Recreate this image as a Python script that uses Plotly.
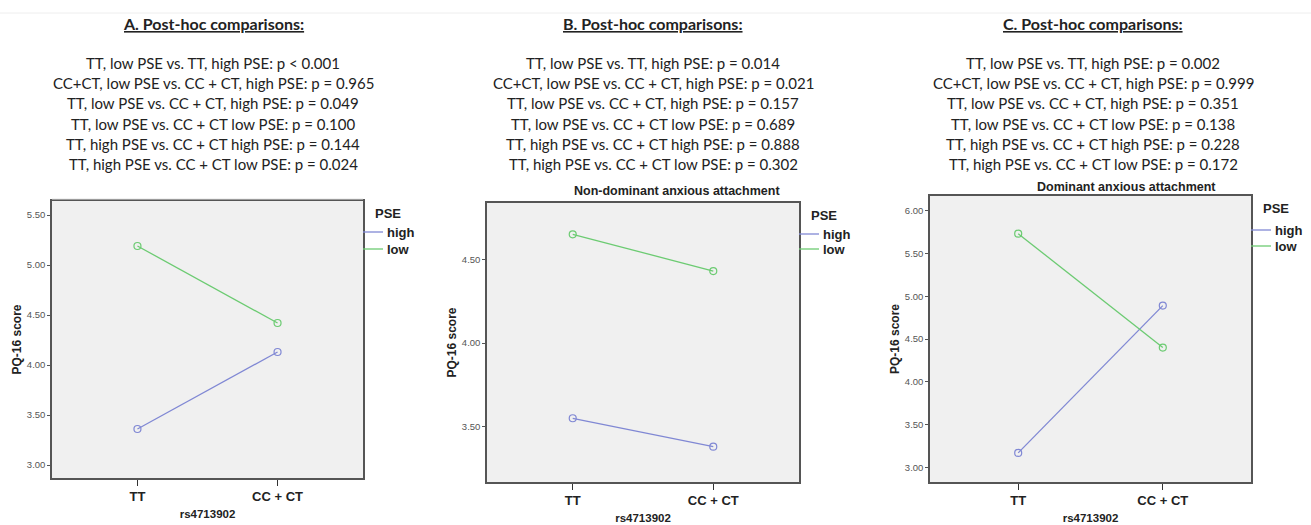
import plotly.graph_objects as go

W, H = 1311, 525

genotypes = ["TT", "CC + CT"]
pse_levels = ["high", "low"]

# Panel A
a_high = [3.36, 4.13]
a_low = [5.19, 4.42]
# Panel B (non-dominant anxious attachment)
b_high = [3.55, 3.38]
b_low = [4.65, 4.43]
# Panel C (dominant anxious attachment)
c_high = [3.17, 4.89]
c_low = [5.73, 4.40]

titles = ["A. Post-hoc comparisons:", "B. Post-hoc comparisons:", "C. Post-hoc comparisons:"]
subtitles = ["", "Non-dominant anxious attachment", "Dominant anxious attachment"]

comparisons = [
    "TT, low PSE vs. TT, high PSE",
    "CC+CT, low PSE vs. CC + CT, high PSE",
    "TT, low PSE vs. CC + CT, high PSE",
    "TT, low PSE vs. CC + CT low PSE",
    "TT, high PSE vs. CC + CT high PSE",
    "TT, high PSE vs. CC + CT low PSE",
]
a_p = ["p < 0.001", "p = 0.965", "p = 0.049", "p = 0.100", "p = 0.144", "p = 0.024"]
b_p = ["p = 0.014", "p = 0.021", "p = 0.157", "p = 0.689", "p = 0.888", "p = 0.302"]
c_p = ["p = 0.002", "p = 0.999", "p = 0.351", "p = 0.138", "p = 0.228", "p = 0.172"]

y_ranges = [[2.87, 5.64], [3.169, 4.837], [2.83, 6.17]]
y_ticks = [[3.0, 3.5, 4.0, 4.5, 5.0, 5.5], [3.5, 4.0, 4.5], [3.0, 3.5, 4.0, 4.5, 5.0, 5.5, 6.0]]

COL_HIGH = "#8088d4"
COL_LOW = "#6ccb72"
ARIAL = "Liberation Sans, Arial, sans-serif"
CAL = "Lato, Open Sans, sans-serif"

# pixel geometry of plot areas: (left, right, top, bottom)
boxes = [(52, 363, 201, 478), (487, 799, 203, 482), (930, 1251, 196, 482)]
# legend offsets from plot top: (PSE title, high, low)
leg_dy = [(12, 31, 48), (12, 31, 46), (13, 34, 50)]

def px(x):
    return x / W

def py(y):
    return 1 - y / H

fig = go.Figure()
highs = [a_high, b_high, c_high]
lows = [a_low, b_low, c_low]

for i in range(3):
    xa = "x" if i == 0 else f"x{i+1}"
    ya = "y" if i == 0 else f"y{i+1}"
    for name, vals, col in [("high", highs[i], COL_HIGH), ("low", lows[i], COL_LOW)]:
        fig.add_trace(go.Scatter(
            x=[0, 1], y=vals, mode="lines+markers", name=name,
            xaxis=xa, yaxis=ya, showlegend=False,
            line=dict(color=col, width=1.3),
            marker=dict(symbol="circle-open", size=7, color=col, line=dict(width=1.2)),
            hoverinfo="skip",
        ))

layout = dict(
    width=W, height=H, margin=dict(l=0, r=0, t=0, b=0),
    paper_bgcolor="white", plot_bgcolor="#f0f0f0",
    showlegend=False,
)

for i in range(3):
    l, r, t, b = boxes[i]
    sx = "" if i == 0 else str(i + 1)
    layout["xaxis" + sx] = dict(
        domain=[px(l), px(r)], anchor="y" + sx, range=[-0.61, 1.61],
        tickmode="array", tickvals=[0, 1], ticktext=genotypes,
        ticks="outside", ticklen=6, tickcolor="#333", tickwidth=1.3,
        showgrid=False, zeroline=False,
        showline=True, linecolor="#555", linewidth=1.5, mirror=True,
        tickfont=dict(family=ARIAL, size=13, color="#222", weight="bold"),
        title=dict(text="<b>rs4713902</b>", font=dict(family=ARIAL, size=11.5, color="#222"), standoff=7),
    )
    layout["yaxis" + sx] = dict(
        domain=[py(b), py(t)], anchor="x" + sx, range=y_ranges[i],
        tickmode="array", tickvals=y_ticks[i], tickformat=".2f",
        ticks="outside", ticklen=3, tickcolor="#555",
        showgrid=False, zeroline=False,
        showline=True, linecolor="#555", linewidth=1.5, mirror=True,
        tickfont=dict(family=ARIAL, size=9.5, color="#555"),
        title=dict(text="<b>PQ-16 score</b>", font=dict(family=ARIAL, size=12, color="#222"), standoff=3),
    )

fig.update_layout(**layout)

title_x = [213, 653, 1093]
pvals = [a_p, b_p, c_p]
line_y = [63, 83.2, 103.4, 123.6, 143.8, 164]
ann = []
for i in range(3):
    ann.append(dict(
        x=px(title_x[i]), y=py(24), xref="paper", yref="paper",
        text="<u><b>" + titles[i] + "</b></u>", showarrow=False,
        font=dict(family=CAL, size=16, color="#222"), xanchor="center", yanchor="middle",
    ))
    for c, p, yy in zip(comparisons, pvals[i], line_y):
        ann.append(dict(
            x=px(title_x[i]), y=py(yy), xref="paper", yref="paper",
            text=f"{c}: {p}", showarrow=False,
            font=dict(family=CAL, size=15, color="#222"), xanchor="center", yanchor="middle",
        ))

sub_pos = [None, (677, 191), (1126, 187)]
for i in (1, 2):
    ann.append(dict(
        x=px(sub_pos[i][0]), y=py(sub_pos[i][1]), xref="paper", yref="paper",
        text="<b>" + subtitles[i] + "</b>", showarrow=False,
        font=dict(family=ARIAL, size=12.5, color="#222"), xanchor="center", yanchor="middle",
    ))

# legends (PSE)
shapes = []
for i in range(3):
    l, r, t, b = boxes[i]
    dt, dh, dl = leg_dy[i]
    ann.append(dict(
        x=px(r + 25), y=py(t + dt), xref="paper", yref="paper",
        text="<b>PSE</b>", showarrow=False,
        font=dict(family=ARIAL, size=13, color="#222"), xanchor="center", yanchor="middle",
    ))
    for name, col, dy in [(pse_levels[0], COL_HIGH, dh), (pse_levels[1], COL_LOW, dl)]:
        shapes.append(dict(type="line", xref="paper", yref="paper",
                           x0=px(r), x1=px(r + 20), y0=py(t + dy), y1=py(t + dy),
                           line=dict(color=col, width=1.3)))
        ann.append(dict(
            x=px(r + 22), y=py(t + dy), xref="paper", yref="paper",
            text="<b>" + name + "</b>", showarrow=False,
            font=dict(family=ARIAL, size=13, color="#222"), xanchor="left", yanchor="middle",
        ))

# faint slide edge lines
shapes.append(dict(type="line", xref="paper", yref="paper", x0=0, x1=1, y0=py(13), y1=py(13),
                   line=dict(color="#eeeeee", width=1)))
shapes.append(dict(type="line", xref="paper", yref="paper", x0=px(52), x1=px(363), y0=py(199), y1=py(199),
                   line=dict(color="#e4e4e4", width=1)))

fig.update_layout(annotations=ann, shapes=shapes)

fig.write_html("out.html", config={"displayModeBar": False},
               post_script="document.body.style.margin='0';document.body.style.overflow='hidden';")
